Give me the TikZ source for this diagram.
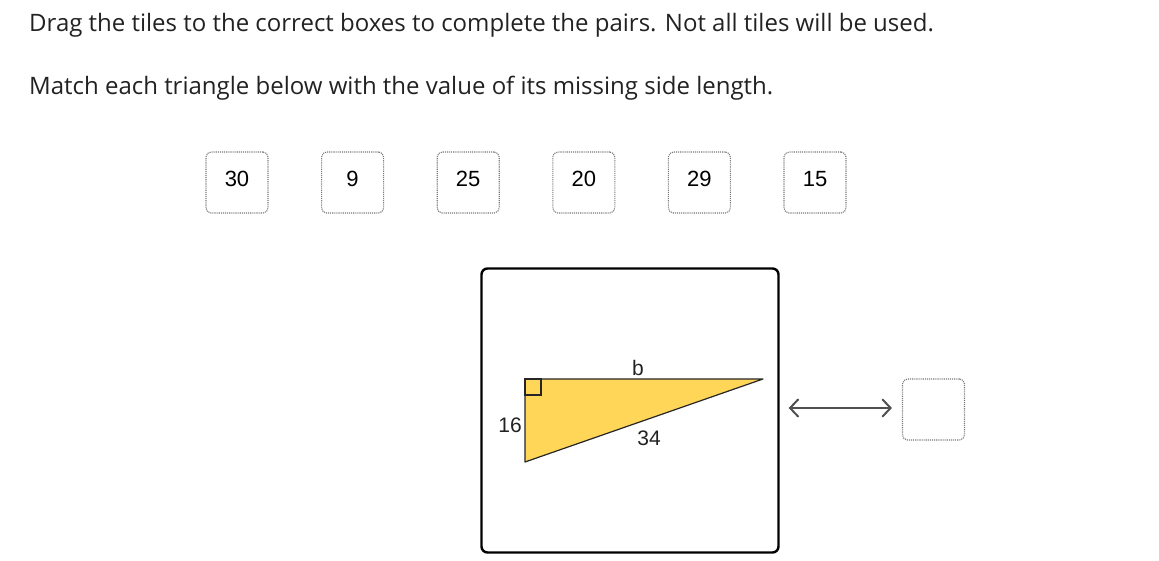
\documentclass[tikz,border=0pt]{standalone}
\usepackage{fontspec}
\usepackage{xcolor}
\usepackage{tikz}
\usetikzlibrary{arrows.meta}
\setmainfont{Open Sans}
\newfontfamily\arialfont{Liberation Sans}
\definecolor{triyellow}{RGB}{255,214,88}
\definecolor{tilegray}{RGB}{120,120,120}
\definecolor{inktext}{RGB}{34,34,34}
\definecolor{arrowgray}{RGB}{80,80,80}

\begin{document}
\begin{tikzpicture}[x=1pt,y=-1pt,
    prompt/.style={anchor=base west, inner sep=0pt, text=inktext, font=\fontsize{24}{28}\selectfont},
    tile/.style={draw=tilegray, densely dotted, line width=1.1pt, rounded corners=5pt,
      minimum width=62pt, minimum height=61pt, inner sep=0pt, text depth=8pt,
      font=\arialfont\fontsize{22}{26}\selectfont},
    card/.style={draw=black, line width=2.4pt, rounded corners=6pt, minimum width=297pt, minimum height=284pt},
    sidelabel/.style={inner sep=0pt, text=inktext, font=\arialfont\fontsize{21}{25}\selectfont},
    pair/.style={draw=arrowgray, line width=2pt, line cap=round,
      {Straight Barb[length=8pt,width=17pt,line cap=round]}-{Straight Barb[length=8pt,width=17pt,line cap=round]}}]
				\useasboundingbox (0,0) rectangle (1159,561);

				% instructions
				\node[prompt] (line1) at (29,32) {Drag the tiles to the correct boxes to complete the pairs. Not all tiles will be used.};
				\node[prompt] (line2) at (29,95) {Match each triangle below with the value of its missing side length.};

				% tiles
				\foreach \val [count=\i] in {30,9,25,20,29,15}
					\node[tile] (tile\i) at ({237+115.6*(\i-1)},182.5) {\val};

				% triangle card
				\node[card] (card) at (630,410.5) {};
				\coordinate (C) at (525,379);
				\coordinate (A) at (763,379);
				\coordinate (B) at (525,462);
				\filldraw[fill=triyellow, draw=black!85, line width=1.2pt, line join=round] (C) -- (A) -- (B) -- cycle;
				\draw[black!85, line width=1.2pt] (C) rectangle ++(16,16);
				\node[sidelabel, anchor=base] (lb) at (638,375) {b};
				\node[sidelabel, anchor=base east] (l16) at (522,432) {16};
				\node[sidelabel, anchor=base] (l34) at (649,445) {34};

				% answer box
				\node[tile] (ans) at (933.5,409.5) {};
				\draw[pair, shorten <=9pt, shorten >=10pt] ([yshift=2.5pt]card.east) -- ([yshift=2.5pt]card.east -| ans.west);
			\end{tikzpicture}
\end{document}
